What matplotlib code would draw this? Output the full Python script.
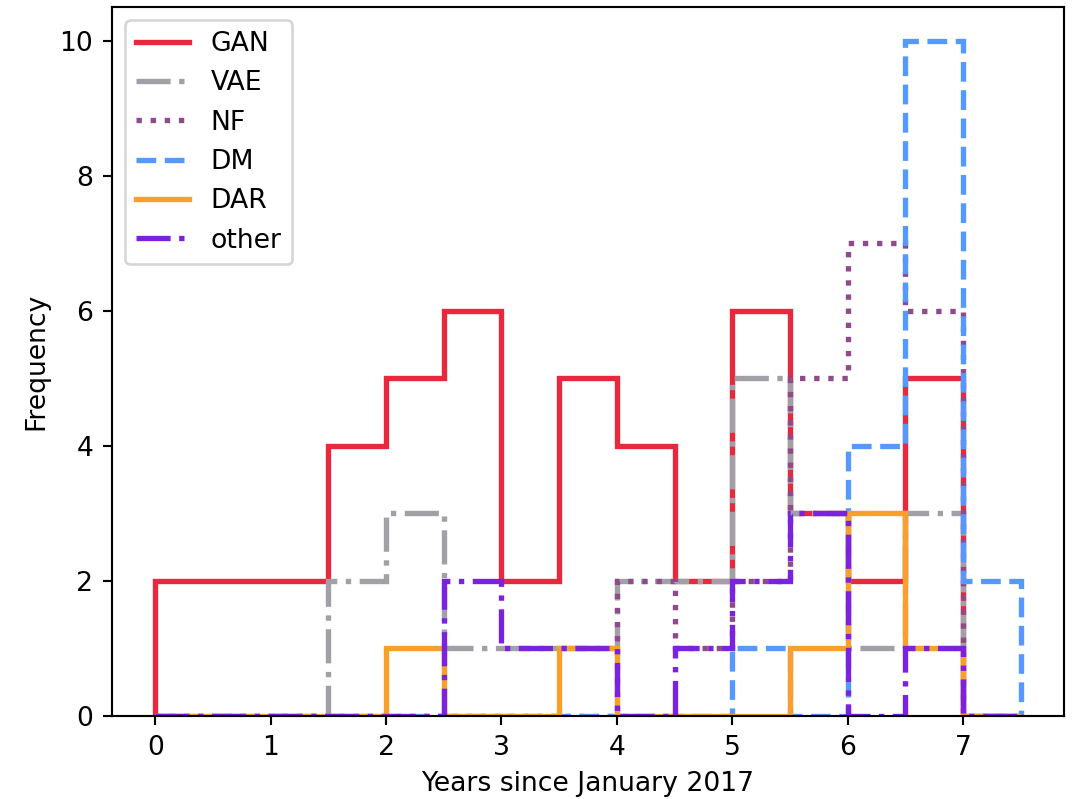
import numpy as np
import matplotlib
matplotlib.use("Agg")
import matplotlib.pyplot as plt

# Half-year bins, years since January 2017
bin_edges = [0.0, 0.5, 1.0, 1.5, 2.0, 2.5, 3.0, 3.5, 4.0, 4.5, 5.0, 5.5, 6.0, 6.5, 7.0, 7.5]

gan   = [2, 2, 2, 4, 5, 6, 2, 5, 4, 2, 6, 3, 2, 5, 0]
vae   = [0, 0, 0, 2, 3, 1, 1, 1, 2, 2, 5, 3, 1, 3, 0]
nf    = [0, 0, 0, 0, 0, 0, 0, 0, 2, 1, 2, 5, 7, 6, 0]
dm    = [0, 0, 0, 0, 0, 0, 0, 0, 0, 0, 1, 0, 4, 10, 2]
dar   = [0, 0, 0, 0, 1, 0, 0, 1, 0, 0, 0, 1, 3, 1, 0]
other = [0, 0, 0, 0, 0, 2, 1, 1, 0, 1, 2, 3, 0, 1, 0]

labels = ["GAN", "VAE", "NF", "DM", "DAR", "other"]
series = [gan, vae, nf, dm, dar, other]
colors = ["#E8283C", "#A0A0A6", "#8E4A8A", "#5599FF", "#F9A02C", "#7A22E0"]
styles = ["-", "-.", ":", "--", "-", "-."]

W, H, DPI = 1073, 799, 192
fig = plt.figure(figsize=(W / DPI, H / DPI), dpi=DPI)
ax = fig.add_axes([112 / W, (H - 716) / H, (1064 - 112) / W, (716 - 7) / H])

for counts, lab, col, ls in zip(series, labels, colors, styles):
    ax.stairs(counts, bin_edges, baseline=0, fill=False, color=col,
              linestyle=ls, linewidth=2, label=lab)

ax.set_xlabel("Years since January 2017")
ax.set_ylabel("Frequency")
ax.legend(loc="upper left")

fig.savefig("out.png", dpi=DPI)
